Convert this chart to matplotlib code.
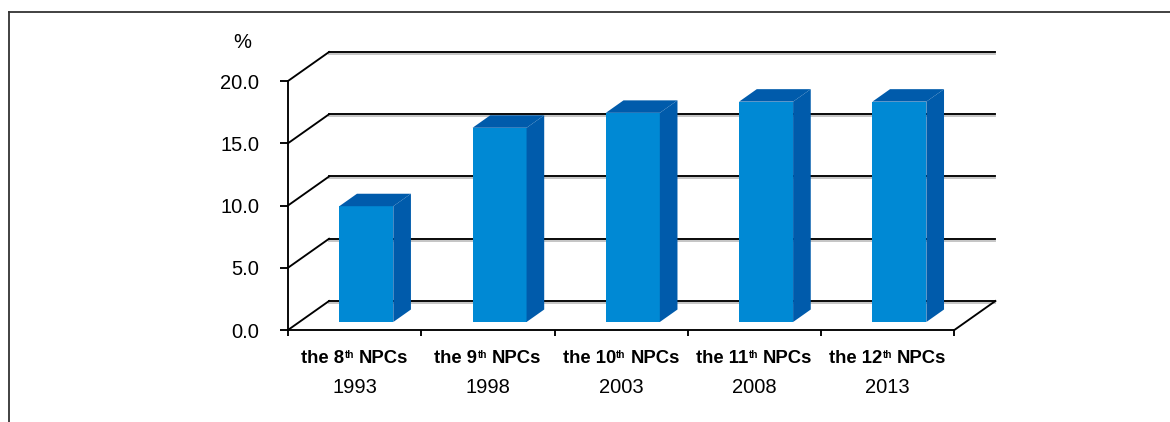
import matplotlib
matplotlib.use("Agg")
import matplotlib.pyplot as plt
from matplotlib.patches import Polygon
from matplotlib.lines import Line2D
from matplotlib.transforms import IdentityTransform
import matplotlib.patheffects as pe

plt.rcParams['font.family'] = ['Liberation Sans', 'DejaVu Sans']

# ---- data ----
ordinals = ["8", "9", "10", "11", "12"]
years = ["1993", "1998", "2003", "2008", "2013"]
values = [9.3, 15.6, 16.8, 17.7, 17.7]
yticks = [0, 5, 10, 15, 20]

# ---- style ----
front_color = "#0089D4"
dark_color = "#005BAB"
W, H = 1170, 422
fig = plt.figure(figsize=(W / 100, H / 100), dpi=100)

ax_left, ax_right, ax_bottom, ax_top = 288, 997, 330, 52
ax = fig.add_axes([ax_left / W, 1 - ax_bottom / H, (ax_right - ax_left) / W, (ax_bottom - ax_top) / H])
ncat = len(values)
xmax = 5.32
dxd = 0.308          # wall depth in category units
dyd = 2.33           # wall depth in value units
ymax = yticks[-1]
ax.set_xlim(0, xmax)
ax.set_ylim(0, ymax + dyd)
ax.patch.set_visible(False)

lw = 1.35
shadow = [pe.SimpleLineShadow(offset=(0, -1.3), shadow_color='#9a9a9a', alpha=0.6), pe.Normal()]

# back wall gridlines and diagonals
for v in yticks:
    ax.add_line(Line2D([dxd, ncat + dxd], [v + dyd, v + dyd], color='black', lw=lw,
                       path_effects=shadow, zorder=1, clip_on=False))
    ax.add_line(Line2D([0, dxd], [v, v + dyd], color='black', lw=lw, zorder=1, clip_on=False))
# right floor diagonal
ax.add_line(Line2D([ncat, ncat + dxd], [0, dyd], color='black', lw=lw, zorder=1, clip_on=False))

# spines
for s in ['top', 'right']:
    ax.spines[s].set_visible(False)
ax.spines['left'].set_bounds(0, ymax)
ax.spines['bottom'].set_bounds(0, ncat)
ax.spines['left'].set_linewidth(lw)
ax.spines['bottom'].set_linewidth(lw)
ax.set_yticks(yticks)
ax.set_yticklabels([f"{v:.1f}" for v in yticks])
ax.tick_params(axis='y', length=5.8, width=lw, pad=15, labelsize=14.5)
ax.set_xticks(range(ncat + 1))
ax.set_xticklabels([])
ax.tick_params(axis='x', length=4.5, width=lw)

# bars
f = 0.276   # depth position of bar front
g = 0.43    # bar depth fraction
off = 0.30
bw = 0.405
for i, v in enumerate(values):
    x0 = i + off + f * dxd
    x1 = x0 + bw
    b = f * dyd
    ddx, ddy = g * dxd, g * dyd
    ax.add_patch(Polygon([(x0, b), (x1, b), (x1, b + v), (x0, b + v)], closed=True,
                         facecolor=front_color, edgecolor='none', zorder=3))
    ax.add_patch(Polygon([(x1, b), (x1 + ddx, b + ddy), (x1 + ddx, b + v + ddy), (x1, b + v)],
                         closed=True, facecolor=dark_color, edgecolor='none', zorder=3))
    ax.add_patch(Polygon([(x0, b + v), (x1, b + v), (x1 + ddx, b + v + ddy), (x0 + ddx, b + v + ddy)],
                         closed=True, facecolor=dark_color, edgecolor='none', zorder=3))

# category labels (bold with superscript "th", then year)
fig.canvas.draw()
renderer = fig.canvas.get_renderer()
fs_main, fs_sup = 13.3, 7.2
ident = IdentityTransform()


def text_width(s, size, weight):
    t = fig.text(0, 0, s, fontsize=size, fontweight=weight)
    w = t.get_window_extent(renderer).width
    t.remove()
    return w


space_w = text_width("a a", fs_main, 'bold') - text_width("aa", fs_main, 'bold')
w_sup = text_width("th", fs_sup, 'bold')
w_npc = text_width("NPCs", fs_main, 'bold')
label_base_px = 33      # baseline offset below the axis line (pixels)
year_base_px = 63
sup_raise_px = 4.8
for i, (o, yr) in enumerate(zip(ordinals, years)):
    cx, cy = ax.transData.transform((i + 0.5, 0))
    w1 = text_width("the " + o, fs_main, 'bold')
    total = w1 + w_sup + space_w + w_npc
    x = cx - total / 2
    yb = cy - label_base_px
    fig.text(x, yb, "the " + o, fontsize=fs_main, fontweight='bold', transform=ident,
             ha='left', va='baseline')
    fig.text(x + w1 + 0.5, yb + sup_raise_px, "th", fontsize=fs_sup, fontweight='bold',
             transform=ident, ha='left', va='baseline')
    fig.text(x + w1 + w_sup + space_w, yb, "NPCs", fontsize=fs_main, fontweight='bold',
             transform=ident, ha='left', va='baseline')
    fig.text(cx, cy - year_base_px, yr, fontsize=14.5, transform=ident,
             ha='center', va='baseline')

fig.text(242 / W, 1 - 43 / H, "%", ha='center', va='center', fontsize=14.5)

# outer frame
fig.add_artist(Line2D([9 / W, 9 / W], [0, 1 - 12 / H], color='#333333', lw=1.3, transform=fig.transFigure))
fig.add_artist(Line2D([9 / W, 1], [1 - 12 / H, 1 - 12 / H], color='#333333', lw=1.3, transform=fig.transFigure))

fig.savefig("out.png", dpi=100, facecolor='white')
